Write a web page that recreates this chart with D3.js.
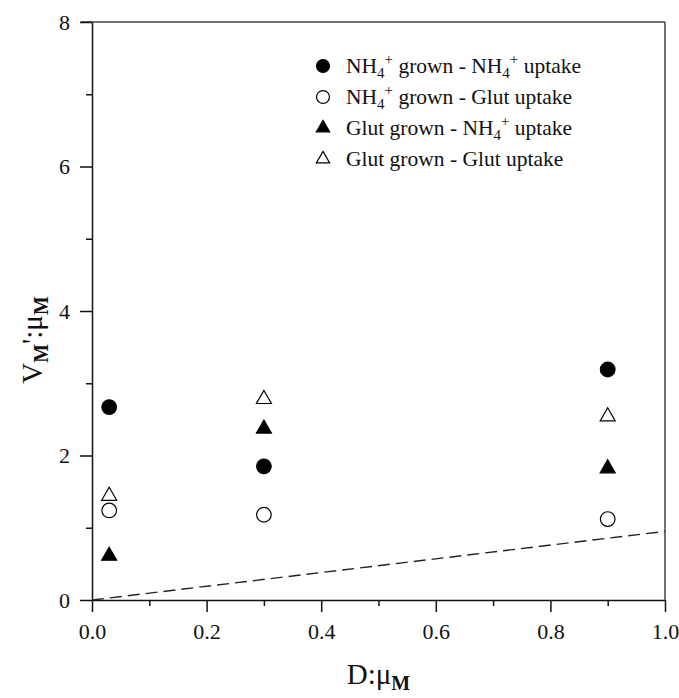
<!DOCTYPE html>
<html>
<head>
<meta charset="utf-8">
<script src="https://cdn.jsdelivr.net/npm/d3@7"></script>
<style>
  html, body { margin: 0; padding: 0; background: #fff; overflow: hidden; }
  svg { display: block; }
  text { font-family: "Liberation Serif", "Times New Roman", serif; fill: #111; }
</style>
</head>
<body>
<div id="chart"></div>
<script>
// D : mu_M values where uptake was measured
var dilution = [0.03, 0.3, 0.9];
// V_M' : mu_M for each culture / substrate combination
var nh4GrownNh4Uptake = [2.67, 1.85, 3.19];
var nh4GrownGlutUptake = [1.24, 1.18, 1.12];
var glutGrownNh4Uptake = [0.61, 2.37, 1.82];
var glutGrownGlutUptake = [1.44, 2.78, 2.54];
// reference line (dashed)
var refX = [0, 1];
var refY = [0, 0.95];
var xTicks = [0, 0.2, 0.4, 0.6, 0.8, 1.0];
var xMinor = [0.1, 0.3, 0.5, 0.7, 0.9];
var yTicks = [0, 2, 4, 6, 8];
var yMinor = [1, 3, 5, 7];

var width = 679;
var height = 698;
var margin = { top: 22, right: 14, bottom: 98, left: 92 };
var innerWidth = width - margin.left - margin.right;
var innerHeight = height - margin.top - margin.bottom;

var svg = d3.select("#chart").append("svg").attr("width", width).attr("height", height);
var g = svg.append("g").attr("transform", "translate(" + margin.left + "," + margin.top + ")");

var x = d3.scaleLinear().domain([0, 1]).range([0, innerWidth]);
var y = d3.scaleLinear().domain([0, 8]).range([innerHeight, 0]);

var series = [
  { label: [["NH"], ["4", "sub"], ["+", "sup"], [" grown - NH"], ["4", "sub"], ["+", "sup"], [" uptake"]], values: nh4GrownNh4Uptake, shape: d3.symbolCircle, filled: true },
  { label: [["NH"], ["4", "sub"], ["+", "sup"], [" grown - Glut uptake"]], values: nh4GrownGlutUptake, shape: d3.symbolCircle, filled: false },
  { label: [["Glut grown - NH"], ["4", "sub"], ["+", "sup"], [" uptake"]], values: glutGrownNh4Uptake, shape: d3.symbolTriangle, filled: true },
  { label: [["Glut grown - Glut uptake"]], values: glutGrownGlutUptake, shape: d3.symbolTriangle, filled: false }
];

function symbolSize(shape, scale) {
  return (shape === d3.symbolCircle ? 168 : 98) * scale;
}

// frame: top and right edges
g.append("line").attr("x1", -11).attr("x2", innerWidth).attr("y1", 0).attr("y2", 0)
  .attr("stroke", "#444").attr("stroke-width", 1.5);
g.append("line").attr("x1", innerWidth).attr("x2", innerWidth).attr("y1", 0).attr("y2", innerHeight)
  .attr("stroke", "#444").attr("stroke-width", 1.5);

// minor ticks
g.append("g").attr("transform", "translate(0," + innerHeight + ")")
  .call(d3.axisBottom(x).tickValues(xMinor).tickSize(6).tickFormat(""))
  .call(function (s) { s.select(".domain").remove(); s.selectAll("text").remove(); });
g.append("g")
  .call(d3.axisLeft(y).tickValues(yMinor).tickSize(6).tickFormat(""))
  .call(function (s) { s.select(".domain").remove(); s.selectAll("text").remove(); });

// major axes
var xAxis = g.append("g").attr("transform", "translate(0," + innerHeight + ")")
  .call(d3.axisBottom(x).tickValues(xTicks).tickSize(12).tickSizeOuter(0).tickPadding(11).tickFormat(d3.format(".1f")));
var yAxis = g.append("g")
  .call(d3.axisLeft(y).tickValues(yTicks).tickSize(12).tickSizeOuter(0).tickPadding(10).tickFormat(d3.format("d")));

[xAxis, yAxis].forEach(function (a) {
  a.selectAll("path, line").attr("stroke", "#111").attr("stroke-width", 1.5);
  a.selectAll("text").style("font-size", "22px").attr("fill", "#111")
    .style("font-family", '"Liberation Serif", serif');
});
g.selectAll(".tick line").attr("stroke", "#111").attr("stroke-width", 1.5);
yAxis.selectAll("text").attr("dy", "0.34em");

// dashed reference line
var line = d3.line().x(function (d) { return x(d[0]); }).y(function (d) { return y(d[1]); });
g.append("path")
  .datum(refX.map(function (v, i) { return [v, refY[i]]; }))
  .attr("d", line)
  .attr("fill", "none")
  .attr("stroke", "#222")
  .attr("stroke-width", 1.4)
  .attr("stroke-dasharray", "12,6");

// data points
series.forEach(function (s) {
  g.selectAll(null)
    .data(dilution.map(function (d, i) { return { x: d, y: s.values[i] }; }))
    .enter()
    .append("path")
    .attr("d", d3.symbol().type(s.shape).size(symbolSize(s.shape, 1)))
    .attr("transform", function (d) { return "translate(" + x(d.x) + "," + y(d.y) + ")"; })
    .attr("fill", s.filled ? "#000" : "#fff")
    .attr("stroke", "#000")
    .attr("stroke-width", 1.2);
});

// legend
var legend = g.append("g").attr("transform", "translate(" + (323 - margin.left) + "," + (66 - margin.top) + ")");
series.forEach(function (s, i) {
  var row = legend.append("g").attr("transform", "translate(0," + i * 31 + ")");
  row.append("path")
    .attr("d", d3.symbol().type(s.shape).size(symbolSize(s.shape, 0.78)))
    .attr("fill", s.filled ? "#000" : "#fff")
    .attr("stroke", "#000")
    .attr("stroke-width", 1.2);
  var t = row.append("text").attr("x", 23).attr("y", 7).style("font-size", "21.5px");
  var shift = 0;
  s.label.forEach(function (part) {
    var ts = t.append("tspan").text(part[0]);
    var target = part[1] === "sub" ? 5 : part[1] === "sup" ? -9 : 0;
    if (part[1]) ts.style("font-size", "15px");
    ts.attr("dy", target - shift);
    shift = target;
  });
});

// axis titles
var xt = svg.append("text")
  .attr("x", margin.left + innerWidth / 2)
  .attr("y", 684)
  .attr("text-anchor", "middle")
  .style("font-size", "29px");
xt.append("tspan").text("D:\u03bc");
xt.append("tspan").text("M").attr("dy", 6).style("font-size", "20px").style("font-weight", "bold");

var yt = svg.append("text")
  .attr("transform", "translate(42,340) rotate(-90)")
  .attr("text-anchor", "middle")
  .style("font-size", "29px");
yt.append("tspan").text("V");
yt.append("tspan").text("M").attr("dy", 6).style("font-size", "20px").style("font-weight", "bold");
yt.append("tspan").text("'").attr("dy", -6);
yt.append("tspan").text(":\u03bc");
yt.append("tspan").text("M").attr("dy", 6).style("font-size", "20px").style("font-weight", "bold");
</script>
</body>
</html>
